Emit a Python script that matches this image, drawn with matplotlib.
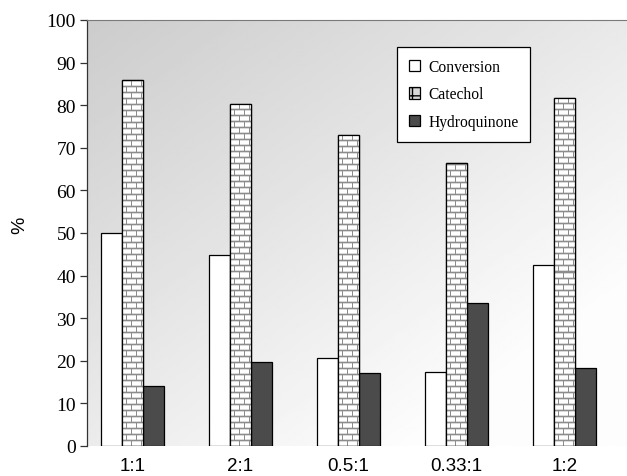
import numpy as np
import matplotlib.pyplot as plt
from matplotlib.patches import Patch

RATIOS       = ["1:1", "2:1", "0.5:1", "0.33:1", "1:2"]
CONVERSION   = [50.1, 44.9, 20.6, 17.4, 42.5]
CATECHOL     = [85.9, 80.3, 73.0, 66.4, 81.7]
HYDROQUINONE = [14.1, 19.8, 17.1, 33.6, 18.2]

DARK   = "#4b4b4b"
SERIF  = "Liberation Serif"
SANS   = "Liberation Sans"


def brick_texture(nrows, ncols):
    # white bricks, grey mortar: rows 6 px tall, bricks 10 px wide, offset by half
    img = np.ones((nrows, ncols))
    for r in range(nrows):
        k = r % 6
        if k == 5:
            img[r, :] = 0.55
            continue
        shift = 0 if (r // 6) % 2 == 0 else 5
        for c in range(ncols):
            if (c + shift) % 10 == 9:
                img[r, c] = 0.55
            elif k == 0 or k == 4:
                img[r, c] = 0.85
    return img[::-1]


fig = plt.figure(figsize=(6.27, 4.77), dpi=100)
ax = fig.add_axes([87 / 627, 30 / 477, 540 / 627, 426 / 477])

# soft grey-to-white diagonal background
gx, gy = np.meshgrid(np.linspace(0, 1, 200), np.linspace(1, 0, 200))
t = np.clip(0.6 * gx + 0.65 * (1 - gy), 0, 1)
bg = 0.80 + 0.19 * t
ax.imshow(bg, extent=(0, 1, 0, 1), transform=ax.transAxes, cmap="gray",
          vmin=0, vmax=1, aspect="auto", zorder=0, interpolation="bilinear")

x = np.arange(len(RATIOS))
w = 0.194

ax.bar(x - w, CONVERSION, w, color="white", edgecolor="black", lw=0.9, zorder=2)
cat_bars = ax.bar(x, CATECHOL, w, color="white", edgecolor="black", lw=0.9, zorder=2)
ax.bar(x + w, HYDROQUINONE, w, color=DARK, edgecolor="black", lw=0.9, zorder=2)

ax.set_xlim(-0.421, 4.579)
ax.set_ylim(0, 100)

# brick fill for the catechol bars, clipped to each bar
for bar in cat_bars:
    x0, h = bar.get_x(), bar.get_height()
    img = brick_texture(int(round(h * 4.26)), 21)
    im = ax.imshow(img, extent=(x0, x0 + w, 0, h), cmap="gray", vmin=0, vmax=1,
                   aspect="auto", interpolation="nearest", zorder=2.5)
    im.set_clip_path(bar)
    ax.bar(x0 + w / 2, h, w, facecolor="none", edgecolor="black", lw=0.9, zorder=3)

ax.set_yticks(range(0, 101, 10))
ax.set_yticklabels([str(v) for v in range(0, 101, 10)], fontfamily=SERIF, fontsize=14)
ax.set_xticks(x)
ax.set_xticklabels(RATIOS, fontfamily=SANS, fontsize=13.5)
ax.tick_params(axis="x", length=0, pad=8)
ax.tick_params(axis="y", length=5, width=0.9, pad=3, color="#333333")

ax.set_ylabel("%", fontfamily=SANS, fontsize=14)
ax.yaxis.set_label_coords(-0.108, 0.52)

ax.spines["right"].set_visible(False)
ax.spines["bottom"].set_visible(False)
ax.spines["top"].set_color("#7a7a7a")
ax.spines["left"].set_color("#333333")
ax.spines["left"].set_linewidth(0.9)

handles = [
    Patch(facecolor="white", edgecolor="black", lw=0.9, label="Conversion"),
    Patch(facecolor="#d8d8d8", edgecolor="black", lw=0.9, hatch="++", label="Catechol"),
    Patch(facecolor=DARK, edgecolor="black", lw=0.9, label="Hydroquinone"),
]
leg = ax.legend(handles=handles, loc="upper left",
                bbox_to_anchor=(397 / 627, 1 - 48 / 477), bbox_transform=fig.transFigure,
                borderaxespad=0, frameon=True, fancybox=False,
                prop={"family": SERIF, "size": 11.2}, handlelength=0.75, handleheight=0.75,
                handletextpad=0.5, labelspacing=0.75, borderpad=0.75)
leg.get_frame().set_edgecolor("black")
leg.get_frame().set_linewidth(0.9)
leg.get_frame().set_facecolor("white")
leg.get_frame().set_alpha(1)

fig.savefig("out.png", dpi=100)
